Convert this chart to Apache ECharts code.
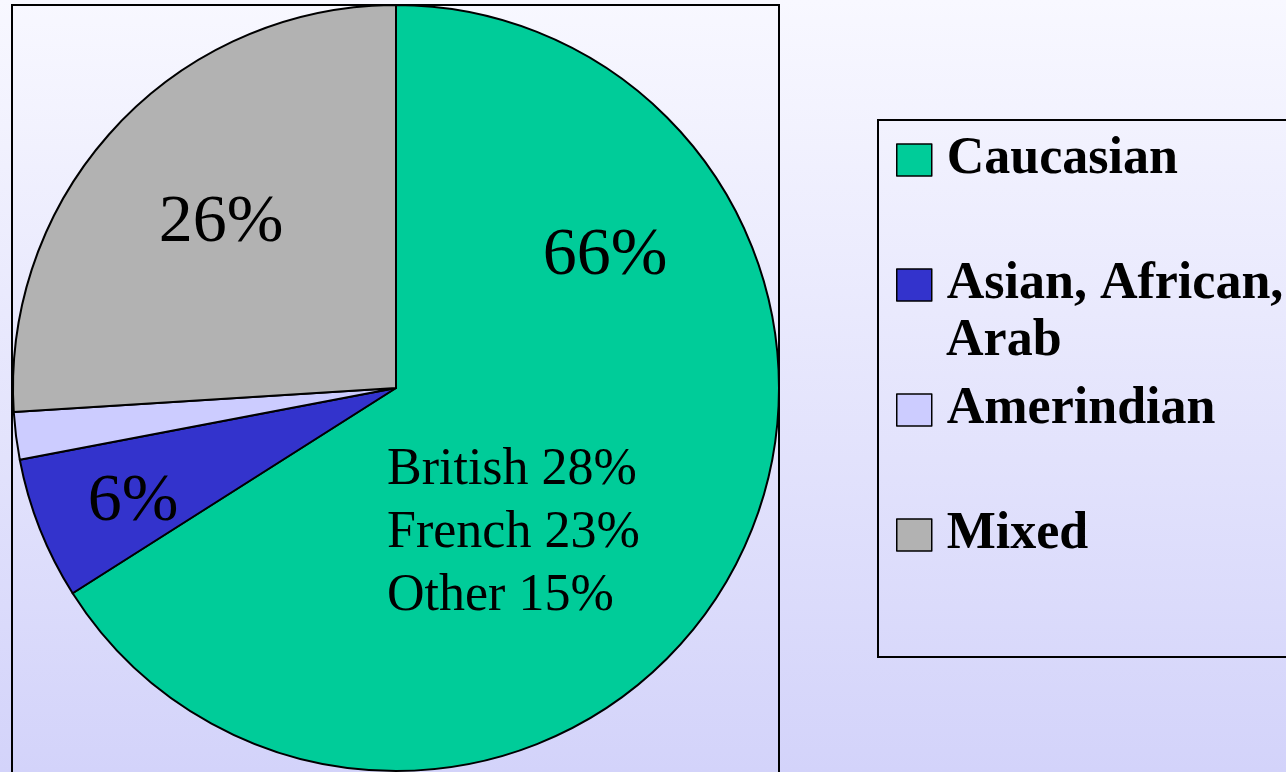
<!DOCTYPE html>
<html>
<head>
<meta charset="utf-8">
<script src="https://cdn.jsdelivr.net/npm/echarts@6/dist/echarts.min.js"></script>
<style>
  html, body { margin: 0; padding: 0; }
  #chart { width: 1286px; height: 772px; }
</style>
</head>
<body>
<div id="chart"></div>
<script>
// data
const groups = ["Caucasian", "Asian, African, Arab", "Amerindian", "Mixed"];
const shares = [66, 6, 2, 26];
const groupColors = ["#00CC99", "#3333CC", "#CCCCFF", "#B2B2B2"];
const breakdownNames = ["British", "French", "Other"];
const breakdownShares = [28, 23, 15];

const serif = '"Liberation Serif", "Times New Roman", serif';
// where the % labels sit (picture coords), by slice
const labelSpots = [[605, 256], [133, 502], null, [221, 223]];

// the long legend name wraps after "African," in the original
const wrapAt = "Asian, African,";
const wrapRest = groups[1].slice(wrapAt.length).trim();

const chart = echarts.init(document.getElementById("chart"));

const option = {
  animation: false,
  backgroundColor: new echarts.graphic.LinearGradient(0, 0, 0, 1, [
    { offset: 0, color: "#F8F8FF" },
    { offset: 1, color: "#D3D3FA" },
  ]),
  graphic: [
    {
      type: "rect",
      z: 0,
      shape: { x: 12, y: 5, width: 767, height: 820 },
      style: { fill: "none", stroke: "#000", lineWidth: 2 },
    },
    {
      type: "rect",
      z: 0,
      shape: { x: 878, y: 120, width: 440, height: 537 },
      style: { fill: "none", stroke: "#000", lineWidth: 2 },
    },
    {
      type: "text",
      z: 10,
      style: {
        x: 387,
        y: 439,
        text: breakdownNames.map((n, i) => n + " " + breakdownShares[i] + "%").join("\n"),
        font: "52px " + serif,
        lineHeight: 63,
        fill: "#000",
        verticalAlign: "top",
      },
    },
    {
      // second line of the wrapped legend name
      type: "text",
      z: 10,
      style: {
        x: 946,
        y: 342,
        text: wrapRest,
        font: "bold 52px " + serif,
        fill: "#000",
        verticalAlign: "middle",
      },
    },
  ],
  legend: {
    orient: "vertical",
    left: 896,
    top: 134,
    padding: 0,
    itemGap: 73,
    itemWidth: 35,
    itemHeight: 32,
    icon: "rect",
    selectedMode: false,
    itemStyle: { borderColor: "#000", borderWidth: 1.5 },
    data: groups,
    formatter: (name) => (name === groups[1] ? wrapAt : name),
    textStyle: {
      padding: [0, 0, 0, 10],
      fontFamily: serif,
      fontWeight: "bold",
      fontSize: 52,
      color: "#000",
    },
  },
  series: [
    {
      type: "pie",
      center: [396, 388],
      radius: 383,
      startAngle: 90,
      clockwise: true,
      silent: true,
      itemStyle: { borderColor: "#000", borderWidth: 2 },
      label: {
        show: true,
        position: "inside",
        formatter: (p) => p.value + "%",
        fontFamily: serif,
        fontSize: 68,
        color: "#000",
      },
      labelLine: { show: false },
      labelLayout: (params) => {
        const spot = labelSpots[params.dataIndex];
        if (!spot) return {};
        return { x: spot[0], y: spot[1], align: "center", verticalAlign: "middle" };
      },
      data: groups.map((name, i) => ({
        name: name,
        value: shares[i],
        itemStyle: { color: groupColors[i] },
        label: { show: labelSpots[i] !== null },
      })),
    },
  ],
};

chart.setOption(option);
</script>
</body>
</html>
